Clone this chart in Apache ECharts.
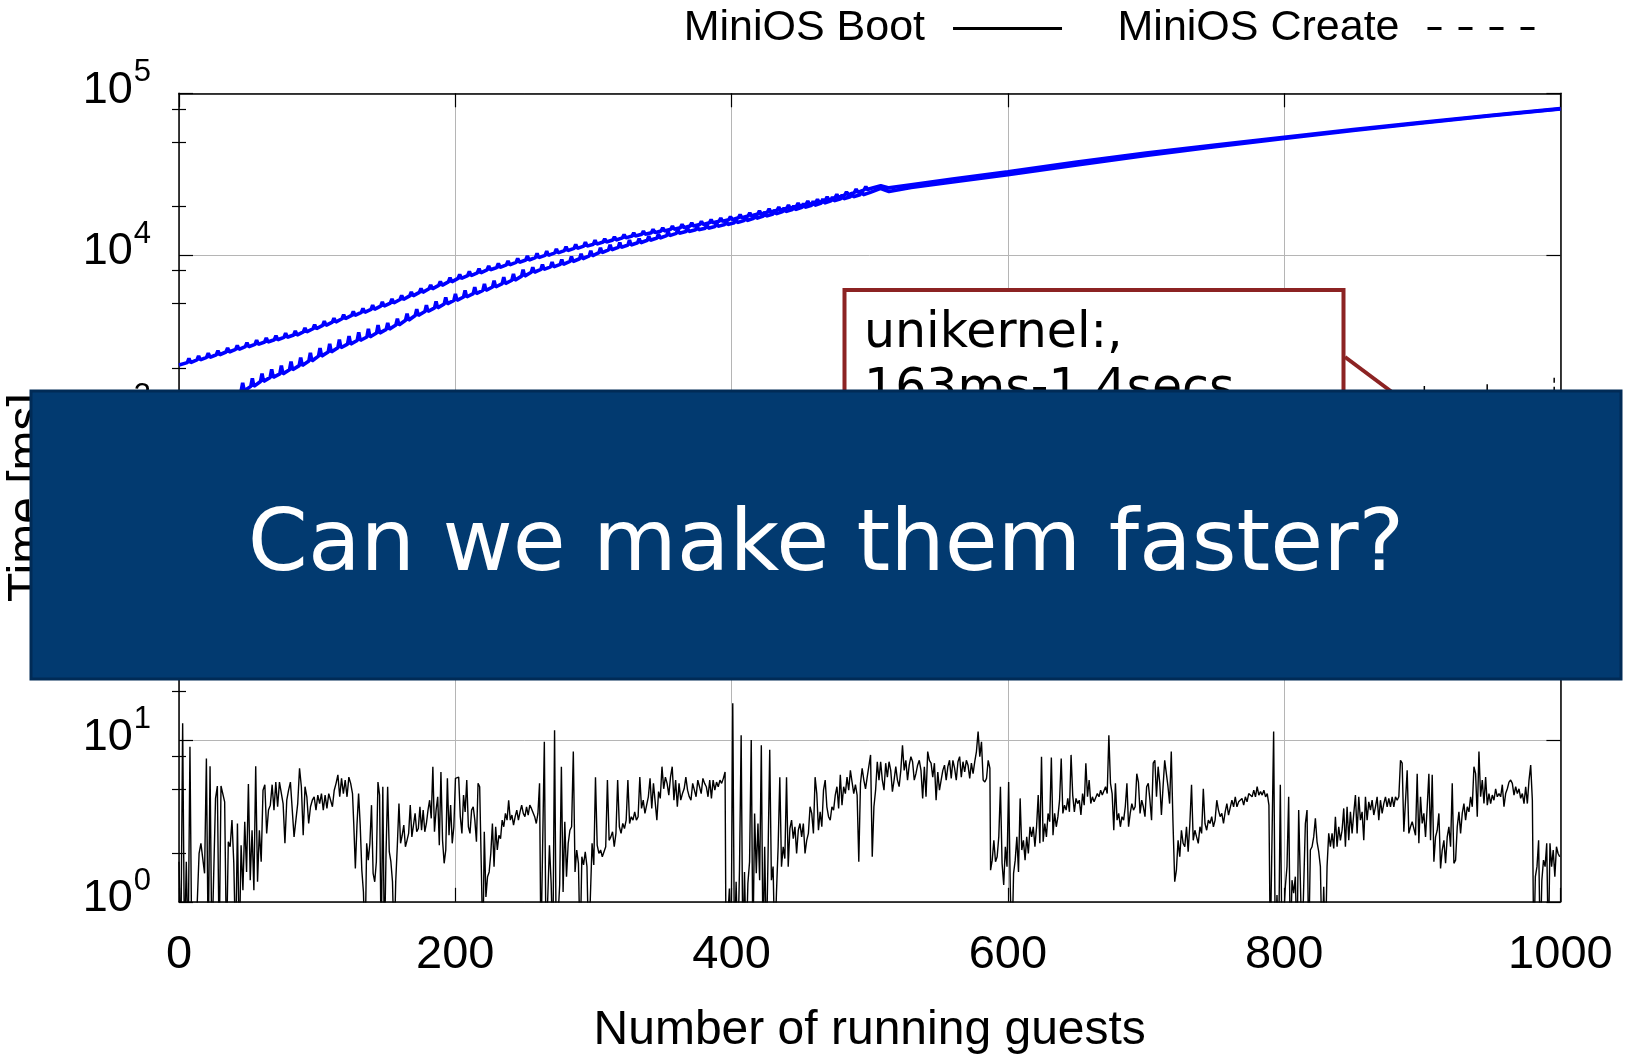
<!DOCTYPE html>
<html>
<head>
<meta charset="utf-8">
<script src="https://cdn.jsdelivr.net/npm/echarts@6/dist/echarts.min.js"></script>
<style>
html,body{margin:0;padding:0;background:#fff;}
#chart{width:1629px;height:1056px;}
</style>
</head>
<body>
<div id="chart"></div>
<script>
// ---------------- DATA ----------------
const xTicks = [0, 200, 400, 600, 800, 1000];
const yMinorTicks = [2,5,8,20,50,80,200,500,800,2000,5000,8000,20000,50000,80000];
const xAxisTitle = 'Number of running guests';
const yAxisTitle = 'Time [ms]';

// MiniOS Boot (thin black), segments of readings [xStart, xEnd] + values (ms)
const bootSeg1Range = [0, 125.6];
const bootSeg1 = [1.77,0.5,12.7,0.5,1.77,0.5,9.1,0.5,0.5,0.5,0.5,1.99,2.3,2.3,1.5,7.7,0.5,6.9,0.5,0.5,4.36,5.2,0.5,5.2,5.3,4.15,0.5,2.35,2.19,3.2,1.73,0.5,3.05,0.5,2.24,1.18,3.13,1.53,5.35,1.36,2.77,1.18,6.9,1.33,2.77,1.77,4.9,5.3,2.65,3.69,3.96,5.3,3.69,5.5,3.87,5.5,5.5,4.05,2.3,4.25,4.9,5.5,5.5,2.52,3.2,4.05,6.7,5.15,2.58,5.15,4.46,3.05,3.87,4.25,4.46,3.69,4.57,4.05,4.67,3.69,4.57,3.78,4.67,4.25,3.87,4.9,5.4,6.1,4.46,5.8,4.67,5.66,4.46,5.9,5.4,4.67];
const bootSeg2Range = [126.5, 220];
const bootSeg2 = [3.05,1.61,2.98,4.67,2.98,1.57,1.15,0.5,2.3,1.81,2.3,3.96,1.5,1.33,1.77,5.5,4.57,0.5,5.15,0.5,1.99,5.15,2.04,1.77,1.33,0.5,1.33,2.24,4.05,2.3,2.58,2.98,2.19,2.4,2.65,3.96,2.52,2.98,3.52,2.71,2.84,3.87,2.77,3.69,2.71,3.05,3.69,4.25,3.28,6.85,2.71,3.69,4.46,2.24,6.35,2.4,1.73,2.09,5.8,2.58,3.96,2.3,2.91,5.8,5.66,5.9,3.36,2.65,4.57,3.6,5.66,2.91,2.65,3.69,3.87,3.2,2.35,5.4,5.15,1.65,0.5];
const bootSeg3Range = [221, 261];
const bootSeg3 = [2.71,1.07,1.43,1.53,1.99,3.05,1.65,2.91,2.09,2.58,2.46,3.2,2.91,3.52,3.2,4.25,3.2,3.44,2.98,3.36,3.69,3.2,3.6,3.96,3.52,3.36,3.87,3.44,3.96,3.78,3.87,3.36,3.05,3.52,5.4];
const bootSeg4Range = [262, 395.3];
const bootSeg4 = [0.5,0.5,9.75,0.5,0.5,2.24,1.3,0.5,11.5,0.5,0.5,1.27,6.85,1.15,3.13,1.43,2.3,2.77,2.91,8.5,1.53,2.09,1.73,0.5,1.9,1.69,2.04,1.65,0.5,0.5,2.3,1.69,5.9,2.24,1.99,2.09,1.9,1.94,2.19,5.66,2.4,2.52,2.71,2.19,2.65,5.66,2.91,2.65,3.05,2.84,3.2,5.66,3.05,3.36,3.2,3.6,3.2,3.36,5.9,3.78,4.25,3.52,3.96,4.46,5.8,3.78,5.4,4.15,3.2,4.8,4.36,6.85,5.0,5.9,5.4,4.57,5.9,6.85,4.25,5.66,3.87,5.4,4.25,4.67,5.0,5.9,4.9,4.46,4.25,5.4,4.9,4.46,5.66,5.15,4.67,5.8,5.4,5.15,4.46,5.66,4.36,5.66,4.9,5.5,5.15,5.66,5.4,5.8,6.35];
const bootSeg5Range = [396, 587];
const bootSeg5 = [0.5,0.5,1.21,0.5,16.9,0.5,1.33,0.5,1.57,10.7,0.5,1.53,0.5,1.3,1.77,10.0,0.5,3.52,1.5,3.05,1.36,9.3,0.5,2.19,0.5,1.94,8.7,1.36,1.65,0.5,1.13,2.19,5.9,1.65,2.19,1.85,5.9,1.65,2.84,3.2,2.46,2.91,1.99,2.77,3.05,2.52,3.05,1.99,2.4,2.65,3.87,3.52,2.65,5.9,4.67,2.77,3.6,2.91,4.9,5.66,3.87,3.36,3.2,3.87,3.69,4.57,5.15,3.78,6.1,3.96,5.15,4.67,5.9,4.9,6.5,5.5,4.67,5.3,4.57,1.77,5.4,6.7,5.66,5.0,5.9,5.8,8.1,1.9,3.87,4.9,7.35,5.66,7.35,5.66,4.9,7.2,5.9,7.35,6.5,4.8,5.66,6.85,5.66,5.15,6.5,9.3,6.5,7.5,5.66,7.0,7.9,7.35,5.66,6.2,7.0,7.5,6.5,4.36,6.85,4.46,8.5,7.5,7.2,5.9,7.2,4.25,6.35,4.9,5.66,6.5,7.0,5.66,6.85,7.5,5.8,7.5,6.7,5.66,7.35,7.9,5.9,7.35,6.35,7.5,7.0,5.8,7.2,6.2,7.35,8.5,11.3,7.9,9.75,5.66,5.5,5.8,7.5,6.7];
const bootSeg6Range = [587.5, 719.5];
const bootSeg6 = [1.57,1.81,2.4,1.77,1.9,2.52,5.15,1.73,1.27,2.19,1.65,5.5,1.21,0.5,1.5,1.81,2.52,1.53,4.36,2.09,2.4,1.81,2.52,1.99,2.91,2.52,2.91,2.19,2.91,4.57,2.3,7.9,2.35,3.05,2.52,3.52,3.13,7.8,2.58,3.52,2.91,3.36,4.25,7.7,3.52,3.96,3.69,4.36,3.6,8.1,4.57,3.6,4.36,4.05,4.25,3.44,4.67,3.96,7.2,4.46,5.66,4.05,4.46,4.15,4.25,4.67,4.46,4.9,4.57,4.67,5.15,4.67,10.7,5.4,4.67,2.77,5.4,3.2,3.52,2.91,3.36,3.2,3.87,5.4,2.91,3.52,4.05,3.69,3.87,6.2,5.5,3.52,4.25,3.87,3.36,5.15,5.4,4.25,3.2,7.2,7.5,4.46,6.85,5.4,3.44,5.15,7.5,7.7,5.15,4.05,8.5,3.2];
const bootSeg7Range = [720.8, 789];
const bootSeg7 = [1.33,1.57,2.4,1.9,2.77,2.3,2.19,2.91,2.04,3.05,5.3,2.4,2.77,2.52,2.3,2.91,2.65,5.0,3.05,2.77,3.2,3.05,3.36,2.91,3.2,4.25,3.69,3.36,3.52,3.05,3.6,4.05,3.44,3.36,4.25,3.87,4.46,3.87,4.15,4.05,4.36,3.96,4.46,4.15,4.67,4.57,4.46,4.9,4.46,5.15,4.57,4.8,4.57,4.9,4.46,4.67,3.96];
const bootSeg8Range = [790, 979.7];
const bootSeg8 = [0.5,0.5,11.3,0.5,1.1,0.5,5.3,0.5,0.5,1.24,1.65,4.46,0.5,1.36,1.13,1.43,0.5,3.69,1.36,0.5,0.5,3.05,3.69,0.5,2.09,2.19,2.52,3.28,2.35,2.04,1.65,0.5,1.24,0.5,1.65,2.65,2.19,2.65,2.14,3.36,2.19,2.91,2.4,2.77,3.78,2.19,3.87,2.4,3.6,2.65,3.52,4.57,2.65,4.46,3.2,3.6,2.4,4.46,3.2,4.15,3.69,4.25,3.44,3.87,4.46,3.2,4.25,3.52,4.05,4.46,3.87,4.36,3.87,4.46,3.87,4.46,4.25,4.46,7.5,7.2,2.71,2.77,6.5,2.65,2.91,3.13,3.05,2.58,6.2,2.3,4.46,3.05,3.52,2.52,3.87,6.2,2.4,6.1,1.77,2.52,2.77,3.52,1.61,2.09,2.4,1.73,2.52,2.91,2.19,5.4,1.73,1.81,2.91,3.6,2.65,3.52,4.05,3.2,3.87,3.6,4.46,3.87,6.85,6.2,3.36,8.5,4.46,5.66,4.05,5.9,3.96,4.67,4.05,4.57,4.25,5.0,4.46,4.67,4.46,5.3,3.87,4.67,5.0,5.5,5.66,5.4,4.57,5.15,4.67,5.0,4.36,4.67,4.05,5.15,4.05,5.66,7.0,4.25];
const bootSeg9Range = [980.7, 999.5];
const bootSeg9 = [0.5,1.43,1.65,2.4,0.5,1.36,1.81,1.65,2.3,0.5,2.3,1.65,2.09,1.43,2.19,1.99,1.9];

// MiniOS Create (dashed black) - mostly under the banner
const createX = [0, 100, 200, 300, 400, 500, 600, 700, 800, 880, 1000];
const createY = [163, 250, 340, 440, 550, 670, 810, 970, 1150, 1390, 1420];
const createSpikeX = [901.5, 947, 995.5];
const createSpikeBase = [1420, 1420, 1420];
const createSpikePeak = [1550, 1650, 1740];

// Blue curve, upper start
const upperBlueX = [0, 500, 508, 514, 530, 560, 600, 650, 700, 750, 800, 850, 900, 950, 1000];
const upperBlueY = [2090, 25700, 26800, 26000, 27200, 29500, 32700, 37600, 42700, 47900, 53500, 59600, 66100, 73100, 80400];
const upperSpikeX = [6,13,20,27,34,41,48,55,62,69,76,83,90,97,104,111,118,125,132,139,146,153,160,167,174,181,188,195,202,209,216,223,230,237,244,251,258,265,272,279,286,293,300,
  307,314,321,328,335,342,349,356,363,370,377,384,391,398,405,412,419,426,433,440,447,454,461,468,475,482,489,496];
const upperSpikeBase = [2160,2244,2330,2417,2512,2606,2710,2800,2897,2992,3097,3199,3342,3499,3673,3846,4036,4227,4416,4613,4831,5047,5309,5585,5875,6180,6486,6823,7161,7464,7762,8091,8375,8690,8995,9311,9638,9954,10300,10640,10990,11350,11670,
  12020,12390,12760,13090,13430,13750,14090,14420,14760,15100,15450,15810,16150,16520,16980,17420,17910,18410,18920,19450,20000,20560,21130,21830,22650,23500,24380,25290];
const upperSpikePeak = [2290,2380,2470,2560,2660,2760,2870,2970,3070,3170,3280,3390,3540,3710,3890,4070,4270,4480,4680,4890,5120,5340,5620,5910,6220,6540,6870,7230,7580,7900,8220,8570,8870,9200,9530,9860,10210,10540,10910,11270,11640,12020,12360,
  12580,12970,13360,13710,14060,14400,14750,15100,15450,15810,16180,16550,16910,17300,17780,18240,18750,19280,19810,20360,20940,21530,22120,22860,23710,24600,25530,26480];

// Blue curve, lower start
const lowerBlueX = [0, 20, 35, 500, 508, 514, 530, 560, 600, 650, 700, 750, 800, 850, 900, 950, 1000];
const lowerBlueY = [700, 1050, 1300, 24300, 25800, 24700, 26200, 28300, 31400, 36100, 41200, 46700, 52500, 58900, 65500, 72600, 80000];
const lowerSpikeX = [45,52,59,66,73,80,87,94,101,108,115,122,129,136,143,150,157,164,171,178,185,192,199,206,213,220,227,234,241,248,255,262,269,276,283,290,297,304,311,318,325,
  332,339,346,353,360,367,374,381,388,395,402,409,416,423,430,437,444,451,458,465,472,479,486,493];
const lowerSpikeBase = [1445,1540,1650,1750,1840,1950,2070,2210,2370,2510,2670,2810,2960,3110,3290,3470,3690,3950,4220,4470,4710,4980,5240,5500,5770,6040,6340,6650,6980,7400,7820,8150,8450,8750,9120,9480,9890,10330,10770,11140,11530,
  11910,12330,12740,13180,13610,13960,14320,14660,15030,15420,15850,16330,16870,17420,17950,18540,19100,19720,20320,20990,21630,22280,22910,23600];
const lowerSpikePeak = [1620,1730,1850,1960,2070,2190,2320,2480,2660,2820,3000,3150,3320,3490,3690,3800,4040,4330,4620,4900,5160,5460,5740,6030,6320,6620,6950,7290,7650,8110,8380,8740,9060,9380,9780,10160,10600,11070,11550,11940,12360,
  12610,13060,13490,13960,14410,14780,15160,15520,15920,16330,16790,17290,17870,18450,19010,19630,20230,20880,21520,22230,22910,23590,24260,24990];

// ---------------- BUILD ----------------
function seg(range, vals) {
  const n = vals.length;
  return vals.map((v, i) => [range[0] + i * (range[1] - range[0]) / (n - 1), v]);
}
const bootData = [].concat(
  seg(bootSeg1Range, bootSeg1), seg(bootSeg2Range, bootSeg2), seg(bootSeg3Range, bootSeg3),
  seg(bootSeg4Range, bootSeg4), seg(bootSeg5Range, bootSeg5), seg(bootSeg6Range, bootSeg6),
  seg(bootSeg7Range, bootSeg7), seg(bootSeg8Range, bootSeg8), seg(bootSeg9Range, bootSeg9));

function withSpikes(ax, ay, sx, sb, sp, w) {
  const pts = ax.map((x, i) => [x, ay[i]]);
  sx.forEach((x, i) => {
    pts.push([x, sb[i]]);
    pts.push([x + w / 2, sp[i]]);
    pts.push([x + w, sb[i]]);
  });
  pts.sort((a, b) => a[0] - b[0]);
  return pts;
}
const upperData = withSpikes(upperBlueX, upperBlueY, upperSpikeX, upperSpikeBase, upperSpikePeak, 2.4);
const lowerData = withSpikes(lowerBlueX, lowerBlueY, lowerSpikeX, lowerSpikeBase, lowerSpikePeak, 2.2);
const createData = withSpikes(createX, createY, createSpikeX, createSpikeBase, createSpikePeak, 0.01);

const FONT = 'Liberation Sans';
const chart = echarts.init(document.getElementById('chart'), null, {renderer: 'canvas'});

const G = {left: 179, top: 93.3, right: 68.6, bottom: 154.2};
const grid = Object.assign({outerBoundsMode: 'none', containLabel: false}, G);
const logBase = {type: 'log', logBase: 10, min: 1, max: 100000, splitNumber: 5};
const plotCx = G.left + (1629 - G.left - G.right) / 2;
const plotCy = G.top + (1056 - G.top - G.bottom) / 2;

chart.setOption({
  animation: false,
  backgroundColor: '#ffffff',
  grid: grid,
  legend: {
    right: 86, top: 2, align: 'right', itemWidth: 109, itemHeight: 3, itemGap: 54,
    textStyle: {fontFamily: FONT, fontSize: 43, color: '#000', padding: [0, 23, 0, 0]},
    data: [
      {name: 'MiniOS Boot', itemStyle: {opacity: 0}, lineStyle: {width: 3, color: '#000', type: 'solid'}},
      {name: 'MiniOS Create', itemStyle: {opacity: 0}, lineStyle: {width: 3, color: '#000', type: [14, 17]}}
    ]
  },
  xAxis: [{
    type: 'value', min: 0, max: 1000, interval: 200, position: 'bottom',
    axisLine: {show: true, onZero: false, lineStyle: {color: '#000', width: 1.5}},
    axisTick: {show: true, inside: true, length: 14, lineStyle: {color: '#000', width: 1.2}},
    axisLabel: {fontFamily: FONT, fontSize: 47, color: '#000', margin: 30,
                formatter: function (v) { return String(v); }},
    splitLine: {show: true, lineStyle: {color: '#b5b5b5', width: 1}}
  }, {
    type: 'value', min: 0, max: 1000, interval: 200, position: 'top',
    axisLine: {show: true, onZero: false, lineStyle: {color: '#000', width: 1.5}},
    axisTick: {show: true, inside: true, length: 14, lineStyle: {color: '#000', width: 1.2}},
    axisLabel: {show: false}, splitLine: {show: false}
  }],
  yAxis: [Object.assign({}, logBase, {
    position: 'left',
    axisLine: {show: true, onZero: false, lineStyle: {color: '#000', width: 1.5}},
    axisTick: {show: true, inside: true, length: 14, lineStyle: {color: '#000', width: 1.2}},
    axisLabel: {
      margin: 28, fontFamily: FONT, fontSize: 43, color: '#000', padding: [0, 0, 6, 0],
      formatter: function (v) { return '{b|10}{s|' + Math.round(Math.log10(v)) + '}'; },
      rich: {
        b: {fontFamily: FONT, fontSize: 45, color: '#000', lineHeight: 66},
        s: {fontFamily: FONT, fontSize: 31, color: '#000', lineHeight: 31, verticalAlign: 'top', padding: [0, 0, 0, 1]}
      }
    },
    splitLine: {show: true, lineStyle: {color: '#b5b5b5', width: 1}}
  }), Object.assign({}, logBase, {
    position: 'left',
    axisLine: {show: false},
    axisTick: {show: true, inside: true, length: 7, customValues: yMinorTicks, lineStyle: {color: '#000', width: 1.2}},
    axisLabel: {show: false}, splitLine: {show: false}
  }), Object.assign({}, logBase, {
    position: 'right',
    axisLine: {show: true, onZero: false, lineStyle: {color: '#000', width: 1.5}},
    axisTick: {show: true, inside: true, length: 14, lineStyle: {color: '#000', width: 1.2}},
    axisLabel: {show: false}, splitLine: {show: false}
  }), Object.assign({}, logBase, {
    position: 'right',
    axisLine: {show: false},
    axisTick: {show: true, inside: true, length: 7, customValues: yMinorTicks, lineStyle: {color: '#000', width: 1.2}},
    axisLabel: {show: false}, splitLine: {show: false}
  })],
  series: [
    {name: 'Blue upper', type: 'line', data: upperData, symbol: 'none', z: 3,
     lineStyle: {color: '#0000ff', width: 3.6}, itemStyle: {color: '#0000ff'}},
    {name: 'Blue lower', type: 'line', data: lowerData, symbol: 'none', z: 3,
     lineStyle: {color: '#0000ff', width: 3.6}, itemStyle: {color: '#0000ff'}},
    {name: 'MiniOS Create', type: 'line', data: createData, symbol: 'none', z: 4,
     lineStyle: {color: '#000', width: 1.5, type: [8, 6]}, itemStyle: {color: '#000'}},
    {name: 'MiniOS Boot', type: 'line', data: bootData, symbol: 'none', z: 4,
     lineStyle: {color: '#000', width: 1.4}, itemStyle: {color: '#000'}}
  ],
  graphic: [
    {type: 'text', z: 5, x: plotCx, y: 1031,
     style: {text: xAxisTitle, font: '48px "Liberation Sans"', fill: '#000', align: 'center', verticalAlign: 'middle'}},
    {type: 'text', z: 5, x: 28, y: plotCy, rotation: Math.PI / 2,
     style: {text: yAxisTitle, font: '48px "Liberation Sans"', fill: '#000', align: 'center', verticalAlign: 'middle'}},
    {type: 'rect', z: 50, shape: {x: 844.5, y: 290, width: 499, height: 160},
     style: {fill: '#fff', stroke: '#8c2323', lineWidth: 4}},
    {type: 'polyline', z: 50, shape: {points: [[1345, 357], [1408, 404]]},
     style: {stroke: '#8c2323', lineWidth: 4, fill: null}},
    {type: 'text', z: 51, x: 864, y: 306,
     style: {text: 'unikernel:,\n163ms-1.4secs', font: '49px "DejaVu Sans"', fill: '#000',
             lineHeight: 56, verticalAlign: 'top', align: 'left'}},
    {type: 'rect', z: 100, shape: {x: 31, y: 391, width: 1590, height: 288},
     style: {fill: '#023a70', stroke: '#012b56', lineWidth: 3}},
    {type: 'text', z: 101, x: 826, y: 548,
     style: {text: 'Can we make them faster?', font: '86px "DejaVu Sans"', fill: '#ffffff',
             align: 'center', verticalAlign: 'middle'}}
  ]
});
</script>
</body>
</html>
